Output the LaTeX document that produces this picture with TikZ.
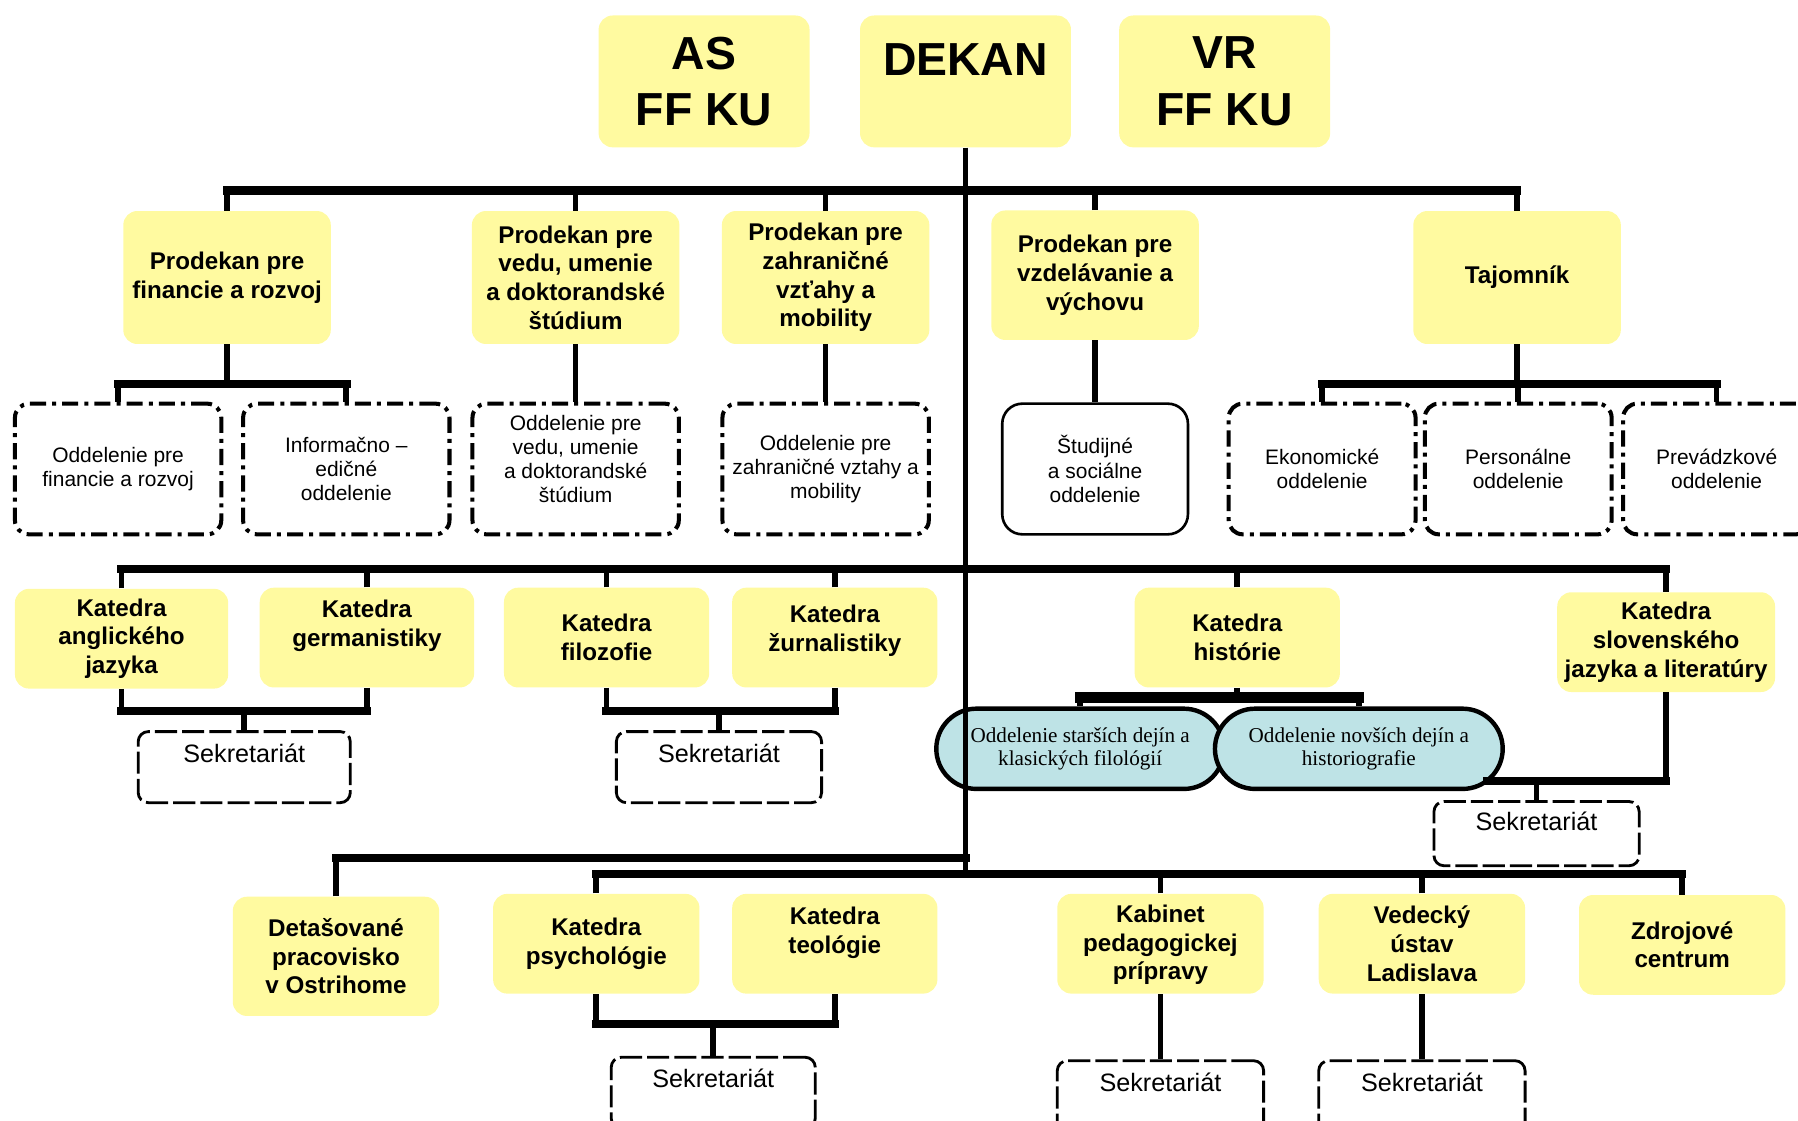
\documentclass[tikz,border=0pt]{standalone}
\usepackage{fontspec}
\setmainfont{Liberation Sans}
\newfontfamily\sectionfont{Liberation Serif}
\usepackage{tikz}
\definecolor{orgyellow}{RGB}{255,250,160}
\definecolor{orgblue}{RGB}{190,227,230}

\begin{document}
\begin{tikzpicture}[x=0.02cm,y=-0.02cm]

	\tikzstyle head box=[fill=orgyellow,rounded corners=7pt,minimum width=3.68cm,minimum height=2.3cm,align=center,inner sep=1pt,font=\bfseries\fontsize{23}{28}\selectfont];
	\tikzstyle yellow box=[fill=orgyellow,rounded corners=7pt,minimum width=3.62cm,align=center,inner sep=1pt,font=\bfseries\fontsize{12}{14.2}\selectfont];
	\tikzstyle prodekan box=[yellow box,minimum height=2.32cm];
	\tikzstyle katedra box=[yellow box,minimum height=1.74cm];
	\tikzstyle office box=[draw,line width=2pt,dash pattern=on 8pt off 3pt on 2pt off 3pt,rounded corners=7pt,minimum width=3.6cm,minimum height=2.28cm,align=center,inner sep=1pt,font=\fontsize{10.4}{12}\selectfont];
	\tikzstyle secretariat box=[draw,line width=1.4pt,dash pattern=on 11pt off 2.5pt,rounded corners=5pt,minimum width=3.6cm,minimum height=1.24cm,align=center,inner sep=1pt,font=\fontsize{12.5}{14}\selectfont];
	\tikzstyle section box=[draw,fill=orgblue,line width=2.2pt,rounded corners=0.7cm,minimum width=5.02cm,minimum height=1.4cm,align=center,inner sep=1pt,font=\sectionfont\fontsize{10.5}{11.5}\selectfont];
	\tikzstyle link lines=[line width=2.8pt];
	\tikzstyle bus lines=[line width=4.2pt,line cap=rect];

	\useasboundingbox (0,0) rectangle (1568,977);

	% vedenie
	\node[head box] (as) at (614,71) {AS\\FF KU};
	\node[head box] (dekan) at (842,71) {DEKAN\\[-6pt]\mbox{}};
	\node[head box] (vr) at (1068,71) {VR\\FF KU};

	\node[prodekan box] (pfin) at (198,242) {Prodekan pre\\financie a rozvoj};
	\node[prodekan box] (pved) at (502,242) {Prodekan pre\\vedu, umenie\\a doktorandské\\štúdium};
	\node[prodekan box] (pzah) at (720,242) {Prodekan pre\\zahraničné\\vzťahy a\\mobility};
	\node[prodekan box,minimum height=2.26cm] (pvzd) at (955,240) {Prodekan pre\\vzdelávanie a\\výchovu};
	\node[prodekan box] (taj) at (1323,242) {Tajomník};

	% oddelenia
	\node[office box] (ofin) at (103,409) {Oddelenie pre\\financie a rozvoj};
	\node[office box] (oinf) at (302,409) {Informačno –\\edičné\\oddelenie};
	\node[office box] (oved) at (502,409) {Oddelenie pre\\vedu, umenie\\a doktorandské\\štúdium\\[-2pt]\mbox{}};
	\node[office box] (ozah) at (720,409) {Oddelenie pre\\zahraničné vztahy a\\mobility};
	\node[office box,solid,line width=1.3pt,rounded corners=10pt,minimum width=3.24cm] (ostu) at (955,409) {Študijné\\a sociálne\\oddelenie};
	\node[office box,minimum width=3.26cm] (oeko) at (1153,409) {Ekonomické\\oddelenie};
	\node[office box,minimum width=3.26cm] (oper) at (1324,409) {Personálne\\oddelenie};
	\node[office box,minimum width=3.26cm] (opre) at (1497,409) {Prevádzkové\\oddelenie};

	% katedry
	\node[katedra box,minimum width=3.72cm] (kang) at (106,557) {Katedra\\anglického\\jazyka};
	\node[katedra box,minimum width=3.74cm] (kger) at (320,556) {Katedra\\germanistiky\\\mbox{}};
	\node[katedra box,minimum width=3.58cm] (kfil) at (529,556) {Katedra\\filozofie};
	\node[katedra box,minimum width=3.58cm] (kzur) at (728,556) {Katedra\\žurnalistiky\\[-5pt]\mbox{}};
	\node[katedra box,minimum width=3.58cm] (khis) at (1079,556) {Katedra\\histórie};
	\node[katedra box,minimum width=3.8cm] (kslo) at (1453,560) {Katedra\\slovenského\\jazyka a literatúry};

	\node[section box] (hsta) at (942,653) {Oddelenie starších dejín a\\klasických filológií};
	\node[section box] (hnov) at (1185,653) {Oddelenie novších dejín a\\historiografie};
	\coordinate (hjoin) at (1297,681);

	\node[secretariat box,minimum width=3.7cm] (sek1) at (213,669) {Sekretariát\\\mbox{}};
	\node[secretariat box,minimum width=3.58cm] (sek2) at (627,669) {Sekretariát\\\mbox{}};
	\node[secretariat box,minimum width=3.58cm,minimum height=1.12cm] (sek3) at (1340,727) {Sekretariát\\[-2pt]\mbox{}};

	% spodny rad
	\node[yellow box,minimum height=2.08cm,minimum width=3.6cm] (edet) at (293,834) {Detašované\\pracovisko\\v Ostrihome};
	\node[katedra box,minimum width=3.6cm] (kpsy) at (520,823) {Katedra\\psychológie};
	\node[katedra box,minimum width=3.58cm] (kteo) at (728,823) {Katedra\\teológie\\[-1pt]\mbox{}};
	\node[katedra box,minimum width=3.6cm] (kped) at (1012,823) {\mbox{}\\[-4.2pt]Kabinet\\pedagogickej\\prípravy};
	\node[katedra box,minimum width=3.6cm] (vusl) at (1240,823) {Vedecký\\ústav\\Ladislava};
	\node[katedra box,minimum width=3.6cm] (zdro) at (1467,824) {Zdrojové\\centrum};

	\node[secretariat box,minimum width=3.56cm] (sek4) at (622,953) {Sekretariát\\\mbox{}};
	\node[secretariat box,minimum width=3.6cm] (sek5) at (1012,956) {Sekretariát\\\mbox{}};
	\node[secretariat box,minimum width=3.6cm] (sek6) at (1240,956) {Sekretariát\\\mbox{}};

	% spojnice
	\draw[link lines] (dekan.south) -- (dekan.south |- 0,762);

	\draw[bus lines] (pfin.north |- 0,166) -- (taj.north |- 0,166);
	\foreach \n in {pfin,pved,pzah,pvzd,taj}
		\draw[link lines] (\n.north) -- (\n.north |- 0,166);

	\draw[link lines] (pfin.south) -- (pfin.south |- 0,335);
	\draw[bus lines] (ofin.north |- 0,335) -- (oinf.north |- 0,335);
	\draw[link lines] (taj.south) -- (taj.south |- 0,335);
	\draw[bus lines] (oeko.north |- 0,335) -- (opre.north |- 0,335);
	\foreach \n in {ofin,oinf,oeko,oper,opre}
		\draw[link lines] (\n.north) -- (\n.north |- 0,335);
	\draw[link lines] (pved.south) -- (oved.north);
	\draw[link lines] (pzah.south) -- (ozah.north);
	\draw[link lines] (pvzd.south) -- (ostu.north);

	\draw[bus lines] (kang.north |- 0,496) -- (kslo.north |- 0,496);
	\foreach \n in {kang,kger,kfil,kzur,khis,kslo}
		\draw[link lines] (\n.north) -- (\n.north |- 0,496);

	\foreach \a/\b/\s/\y in {kang/kger/sek1/620,kfil/kzur/sek2/620,kpsy/kteo/sek4/893} {
		\draw[link lines] (\a.south) -- (\a.south |- 0,\y);
		\draw[link lines] (\b.south) -- (\b.south |- 0,\y);
		\draw[bus lines] (\a.south |- 0,\y) -- (\b.south |- 0,\y);
		\draw[link lines] (\s.north) -- (\s.north |- 0,\y);
	}

	\draw[link lines] (khis.south) -- (khis.south |- 0,606);
	\draw[bus lines,line width=5.5pt] (hsta.north |- 0,608) -- (hnov.north |- 0,608);
	\draw[link lines] (hsta.north) -- (hsta.north |- 0,608);
	\draw[link lines] (hnov.north) -- (hnov.north |- 0,608);

	\draw[link lines] (kslo.south) -- (kslo.south |- 0,681);
	\draw[bus lines] (hjoin) -- (kslo.south |- 0,681);
	\draw[link lines] (sek3.north) -- (sek3.north |- 0,681);

	\draw[bus lines] (edet.north |- 0,748) -- (dekan.south |- 0,748);
	\draw[link lines] (edet.north) -- (edet.north |- 0,748);
	\draw[bus lines] (kpsy.north |- 0,762) -- (zdro.north |- 0,762);
	\foreach \n in {kpsy,kped,vusl,zdro}
		\draw[link lines] (\n.north) -- (\n.north |- 0,762);
	\draw[link lines] (kped.south) -- (sek5.north);
	\draw[link lines] (vusl.south) -- (sek6.north);

\end{tikzpicture}
\end{document}
